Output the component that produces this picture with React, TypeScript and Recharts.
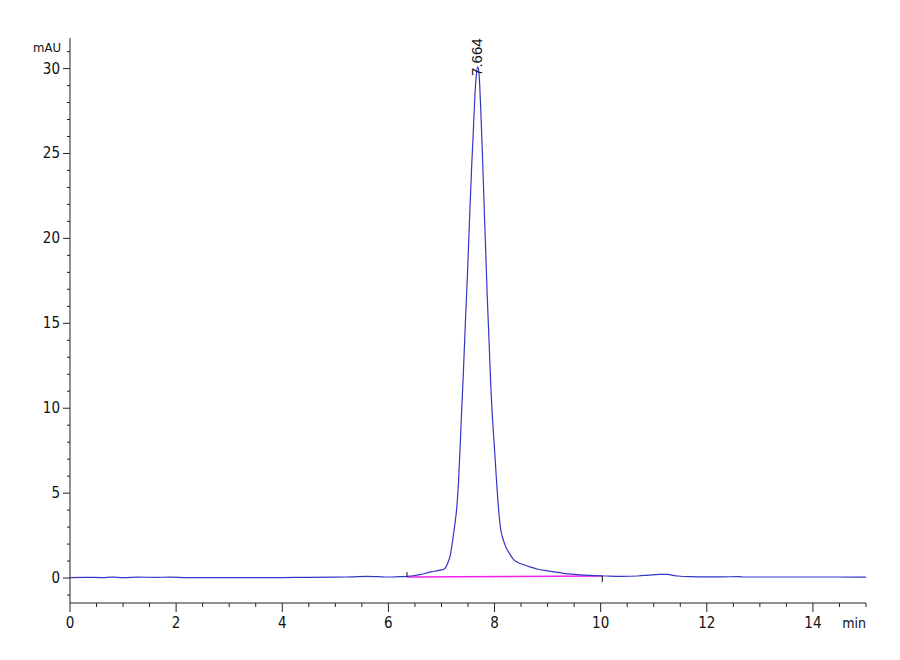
import React from "react";
import {
  LineChart,
  Line,
  XAxis,
  YAxis,
  ReferenceLine,
  ReferenceDot,
  Label,
} from "recharts";

// retention time (min) and absorbance (mAU)
const times = [
  0, 0.3, 0.6, 0.8, 1.0, 1.3, 1.6, 1.9, 2.2, 2.6, 3.0, 3.5, 4.0, 4.5, 5.0, 5.3,
  5.6, 5.8, 6.0, 6.2, 6.35, 6.5, 6.6, 6.7, 6.8, 6.9, 7.0, 7.06, 7.12, 7.17,
  7.21, 7.25, 7.29, 7.32, 7.35, 7.38, 7.41, 7.45, 7.49, 7.53, 7.57, 7.6, 7.63,
  7.66, 7.685, 7.71, 7.74, 7.77, 7.8, 7.83, 7.86, 7.9, 7.93, 7.97, 8.0, 8.04,
  8.08, 8.12, 8.16, 8.21, 8.28, 8.36, 8.45, 8.55, 8.68, 8.8, 9.0, 9.12, 9.3,
  9.5, 9.7, 9.9, 10.1, 10.4, 10.7, 10.9, 11.1, 11.25, 11.45, 11.7, 12.0, 12.3,
  12.6, 12.7, 13.0, 13.5, 14.0, 14.5, 15.0,
];
const absorbance = [
  0.03, 0.04, 0.03, 0.05, 0.03, 0.05, 0.04, 0.05, 0.03, 0.03, 0.03, 0.03, 0.03,
  0.04, 0.05, 0.07, 0.1, 0.08, 0.06, 0.08, 0.1, 0.15, 0.2, 0.28, 0.36, 0.42,
  0.48, 0.55, 0.9, 1.4, 2.2, 3.1, 4.2, 5.6, 7.6, 9.8, 11.9, 15.0, 17.9, 21.2,
  24.3, 26.3, 28.4, 29.7, 30.1, 29.6, 27.6, 25.1, 22.3, 19.6, 16.8, 13.7, 11.3,
  9.0, 7.6, 5.6, 3.9, 2.8, 2.3, 1.85, 1.45, 1.08, 0.9, 0.78, 0.64, 0.53, 0.42,
  0.36, 0.28, 0.22, 0.17, 0.14, 0.12, 0.1, 0.12, 0.17, 0.22, 0.21, 0.12, 0.08,
  0.07, 0.07, 0.08, 0.06, 0.06, 0.06, 0.06, 0.06, 0.05,
];

// integration baseline under the peak
const baselineTimes = [6.35, 10.03];
const baselineValues = [0.06, 0.12];

const peakTime = 7.664;
const peakHeight = 30.1;
const peakLabel = "7.664";

const xTicks = Array.from({ length: 31 }, (_, i) => i * 0.5);
const yTicks = Array.from({ length: 33 }, (_, i) => i - 1);
const xLabelEvery = 2;
const yLabelEvery = 5;

const trace = times.map((t, i) => ({ t, v: absorbance[i] }));
const baseline = baselineTimes.map((t, i) => ({ t, v: baselineValues[i] }));

const axisColor = "#222";
const font = "'Liberation Sans Narrow', 'DejaVu Sans Condensed', Arial, sans-serif";

const XTick = ({ x, y, payload }: any) => {
  const major = payload.value % xLabelEvery === 0;
  return (
    <g>
      <line x1={x} x2={x} y1={y} y2={y + (major ? 9 : 4)} stroke={axisColor} />
      {major && (
        <text x={x} y={y + 25} textAnchor="middle" fontSize={15} fontFamily={font} fill="#111">
          {payload.value}
        </text>
      )}
    </g>
  );
};

const YTick = ({ x, y, payload }: any) => {
  const major = payload.value % yLabelEvery === 0;
  return (
    <g>
      <line x1={x} x2={x - (major ? 7 : 3)} y1={y} y2={y} stroke={axisColor} />
      {major && (
        <text x={x - 10} y={y + 5} textAnchor="end" fontSize={15} fontFamily={font} fill="#111">
          {payload.value}
        </text>
      )}
    </g>
  );
};

const PeakLabel = ({ cx, cy }: any) => (
  <text
    x={cx + 5}
    y={cy + 9}
    transform={`rotate(-90, ${cx + 5}, ${cy + 9})`}
    fontSize={15}
    fontFamily="'Liberation Sans', Arial, sans-serif"
    fill="#111"
  >
    {peakLabel}
  </text>
);

export default function App() {
  return (
    <div style={{ position: "absolute", left: 0, top: 0, background: "#fff" }}>
      <LineChart
        width={900}
        height={660}
        margin={{ top: 38, right: 34, left: 0, bottom: 27 }}
      >
        <XAxis
          type="number"
          dataKey="t"
          height={30}
          domain={[0, 15]}
          ticks={xTicks}
          interval={0}
          tickSize={0}
          tickMargin={0}
          tickLine={false}
          tick={<XTick />}
          stroke={axisColor}
          allowDataOverflow
        >
          <Label
            content={({ viewBox }: any) => (
              <text
                x={viewBox.x + viewBox.width}
                y={viewBox.y + 25}
                textAnchor="end"
                fontSize={14}
                fontFamily={font}
                fill="#111"
              >
                min
              </text>
            )}
          />
        </XAxis>
        <YAxis
          type="number"
          width={70}
          domain={[-1.47, 31.8]}
          ticks={yTicks}
          interval={0}
          tickSize={0}
          tickMargin={0}
          tickLine={false}
          tick={<YTick />}
          stroke={axisColor}
          allowDataOverflow
        >
          <Label
            content={({ viewBox }: any) => (
              <text
                x={viewBox.x + viewBox.width - 9}
                y={viewBox.y + 14}
                textAnchor="end"
                fontSize={13}
                fontFamily={font}
                fill="#111"
              >
                mAU
              </text>
            )}
          />
        </YAxis>
        <Line
          data={baseline}
          dataKey="v"
          type="linear"
          stroke="#f020f0"
          strokeWidth={1.5}
          dot={false}
          isAnimationActive={false}
        />
        <Line
          data={trace}
          dataKey="v"
          type="monotone"
          stroke="#3535c8"
          strokeWidth={1.2}
          dot={false}
          isAnimationActive={false}
        />
        <ReferenceLine
          segment={[
            { x: baselineTimes[0], y: baselineValues[0] },
            { x: baselineTimes[0], y: 0.35 },
          ]}
          stroke="#111"
        />
        <ReferenceLine
          segment={[
            { x: baselineTimes[1], y: baselineValues[1] },
            { x: baselineTimes[1], y: -0.24 },
          ]}
          stroke="#111"
        />
        <ReferenceDot x={peakTime} y={peakHeight} r={0} shape={<PeakLabel />} />
      </LineChart>
    </div>
  );
}
